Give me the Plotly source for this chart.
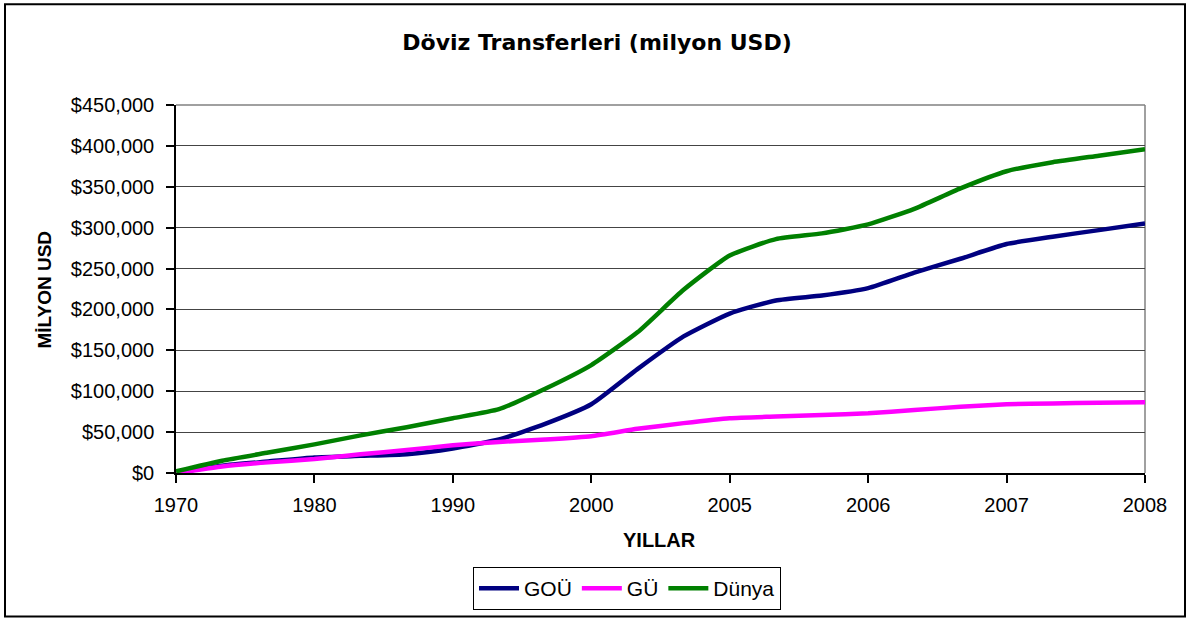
import plotly.graph_objects as go

# category labels on the x axis (evenly spaced categories)
tick_labels = ["1970", "1980", "1990", "2000", "2005", "2006", "2007", "2008"]
# sample positions along the category axis (three samples per category step)
x_pos = [k / 3 for k in range(22)]

# values in USD
gou = [0, 9000, 14000, 19000, 21000, 23000, 30000, 41000, 60000, 84000, 127000,
       167000, 195000, 211000, 217000, 226000, 245000, 262000, 280000, 289000,
       297000, 305000]
gu = [0, 8000, 13000, 17000, 23000, 28000, 34000, 38000, 41000, 45000, 54000,
      61000, 67000, 69000, 71000, 73000, 77000, 81000, 84000, 85000, 86000, 86500]
dunya = [2000, 15000, 25000, 35000, 46000, 56000, 67000, 78000, 103000, 132000,
         172000, 224000, 266000, 286000, 293000, 304000, 323000, 348000, 369000,
         380000, 388000, 396000]

series_names = ["GOÜ", "GÜ", "Dünya"]
series_colors = ["#000080", "#FF00FF", "#008000"]

FONT = "Liberation Sans, Arial, sans-serif"

fig = go.Figure()
for name, vals, col in zip(series_names, [gou, gu, dunya], series_colors):
    fig.add_trace(go.Scatter(
        x=x_pos, y=vals, name=name, mode="lines",
        line=dict(color=col, width=4.5, shape="spline", smoothing=0.5),
    ))

L, R, T, B = 176, 1145, 105, 474
W, H = 1188, 621
pw, ph = R - L, B - T

def px_x(p):
    return (p - L) / pw

def px_y(p):
    return (B - p) / ph

fig.update_layout(
    width=W, height=H,
    margin=dict(l=L, r=W - R, t=T, b=H - B),
    paper_bgcolor="white", plot_bgcolor="white",
    font=dict(family=FONT, size=20, color="black"),
    title=dict(text="<b>Döviz Transferleri (milyon USD)</b>",
               x=597 / W, xanchor="center", y=1 - 42 / H, yanchor="middle",
               font=dict(family="DejaVu Sans", size=22, color="black")),
    showlegend=True,
    legend=dict(orientation="h", x=px_x(627), xanchor="center",
                y=px_y(567), yanchor="top",
                bordercolor="black", borderwidth=1, bgcolor="white",
                font=dict(family=FONT, size=21, color="black"),
                itemwidth=40, tracegroupgap=0),
    xaxis=dict(range=[0, 7], tickvals=list(range(len(tick_labels))),
               ticktext=tick_labels, showgrid=False, zeroline=False,
               showline=True, linecolor="black", linewidth=1.5,
               ticks="outside", ticklen=8, tickcolor="black", tickwidth=1.5,
               ticklabelstandoff=5,
               tickfont=dict(family=FONT, size=20, color="black")),
    yaxis=dict(range=[0, 450000], dtick=50000, tickprefix="$", tickformat=",d",
               showgrid=True, gridcolor="#444444", gridwidth=1, zeroline=False,
               showline=True, linecolor="black", linewidth=1.5,
               ticks="outside", ticklen=8, tickcolor="black", tickwidth=1.5,
               ticklabelstandoff=8,
               tickfont=dict(family=FONT, size=20, color="black")),
    annotations=[
        dict(text="<b>MİLYON USD</b>", xref="paper", yref="paper",
             x=px_x(44), y=px_y(290), textangle=-90, showarrow=False,
             xanchor="center", yanchor="middle",
             font=dict(family=FONT, size=19, color="black")),
        dict(text="<b>YILLAR</b>", xref="paper", yref="paper",
             x=px_x(659), y=px_y(541), showarrow=False,
             xanchor="center", yanchor="middle",
             font=dict(family=FONT, size=20, color="black")),
    ],
    shapes=[
        # plot area frame (top and right)
        dict(type="line", xref="paper", yref="paper", x0=0, x1=1, y0=1, y1=1,
             line=dict(color="#808080", width=1.5), layer="below"),
        dict(type="line", xref="paper", yref="paper", x0=1, x1=1, y0=0, y1=1,
             line=dict(color="#808080", width=1.5), layer="below"),
        # outer chart border
        dict(type="rect", xref="paper", yref="paper",
             x0=px_x(5), x1=px_x(1185), y0=px_y(618), y1=px_y(4),
             line=dict(color="black", width=2), fillcolor="rgba(0,0,0,0)"),
    ],
)

fig.write_html("out.html", config={"displayModeBar": False},
               post_script="document.body.style.margin='0';document.body.style.padding='0';")
